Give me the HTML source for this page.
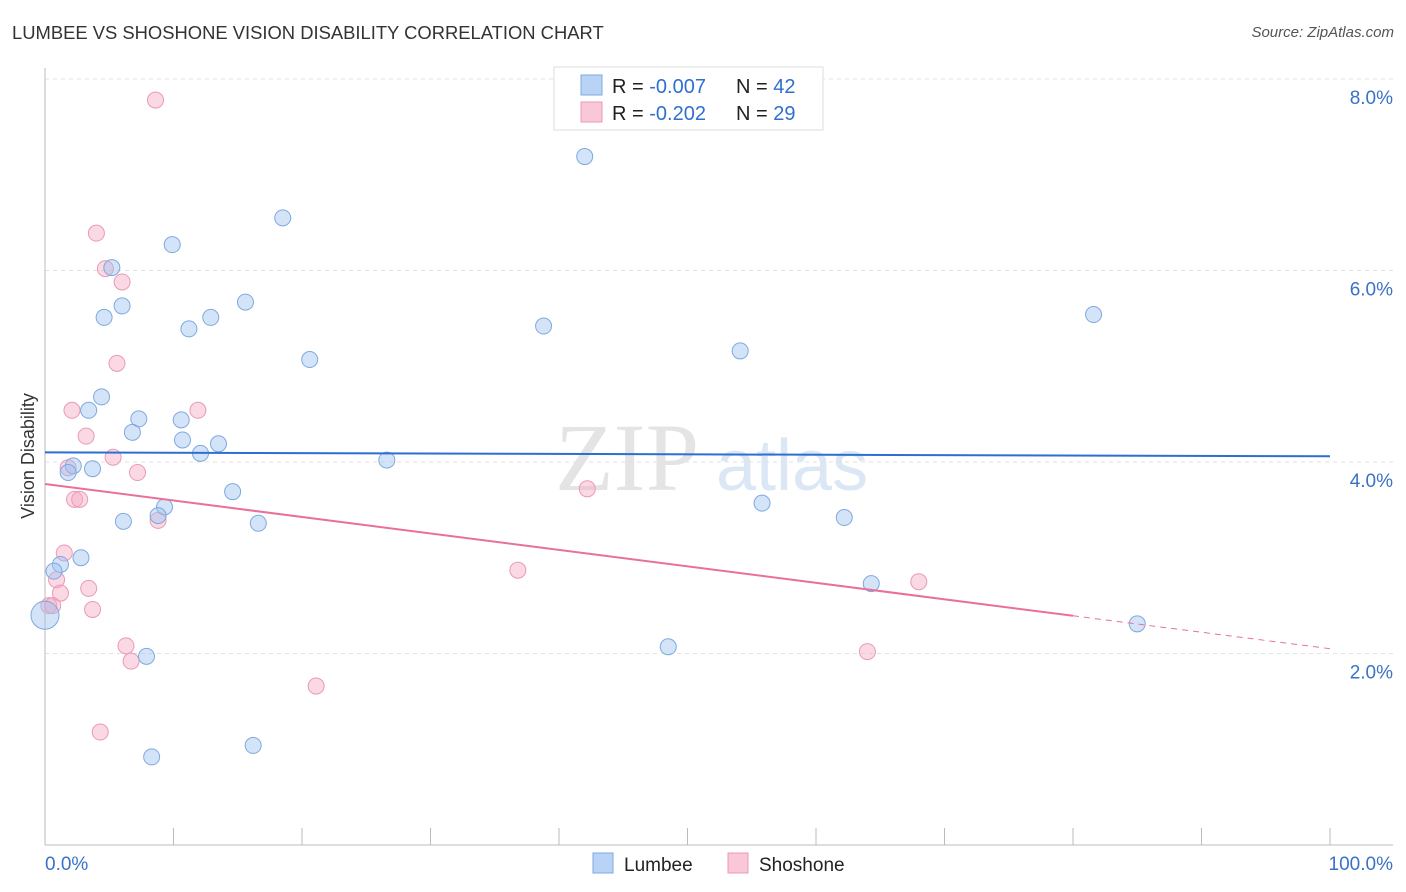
<!DOCTYPE html>
<html><head><meta charset="utf-8"><style>
body{margin:0;background:#fff;font-family:"Liberation Sans",sans-serif;}
#wrap{position:relative;width:1406px;height:892px;overflow:hidden;}
.t{position:absolute;white-space:nowrap;}
</style></head><body>
<div id="wrap">
<div class="t" style="left:12px;top:22px;font-size:18.4px;color:#333;">LUMBEE VS SHOSHONE VISION DISABILITY CORRELATION CHART</div>
<div class="t" style="right:12px;top:24px;font-size:15px;color:#555;font-style:italic;">Source: ZipAtlas.com</div>
<svg id="chart" width="1406" height="892" style="position:absolute;left:0;top:0"></svg>
</div>
<script>
const NS="http://www.w3.org/2000/svg";
const svg=document.getElementById('chart');
const lumbeeX=[42.0,18.5,9.9,5.2,6.0,4.6,15.6,12.9,11.2,20.6,38.8,54.1,81.6,4.4,3.4,7.3,10.6,6.8,10.7,13.5,12.1,26.6,2.2,3.7,1.8,14.6,9.3,8.8,6.1,16.6,55.8,62.2,2.8,1.2,0.7,64.3,85.0,48.5,7.9,16.2,8.3,0.0];
const lumbeeY=[7.19,6.55,6.27,6.03,5.63,5.51,5.67,5.51,5.39,5.07,5.42,5.16,5.54,4.68,4.54,4.45,4.44,4.31,4.23,4.19,4.09,4.02,3.96,3.93,3.89,3.69,3.53,3.44,3.38,3.36,3.57,3.42,3.0,2.93,2.86,2.73,2.31,2.07,1.97,1.04,0.92,2.40];
const shoX=[8.6,4.0,4.7,6.0,5.6,2.1,11.9,3.2,5.3,1.8,7.2,2.3,2.7,8.8,42.2,1.5,0.9,1.2,3.4,3.7,0.3,0.6,36.8,68.0,6.3,6.7,64.0,21.1,4.3];
const shoY=[7.78,6.39,6.02,5.88,5.03,4.54,4.54,4.27,4.05,3.94,3.89,3.61,3.61,3.39,3.72,3.05,2.77,2.63,2.68,2.46,2.50,2.50,2.87,2.75,2.08,1.92,2.02,1.66,1.18];
const yTicks=[2,4,6,8];
const yTickLabels=["2.0%","4.0%","6.0%","8.0%"];
const lumbeeTrend=[4.10,4.06];
const shoTrend=[3.77,2.05];
const shoSolidEnd=80;
const X=v=>45+v*12.85, Y=v=>79+(8-v)*95.75;
function el(tag,a,name,parent){const e=document.createElementNS(NS,tag);for(const k in a)e.setAttribute(k,a[k]);


(parent||svg).appendChild(e);return e;}
let w=el('text',{x:555,y:490,'font-size':96,fill:'#e4e4e4','font-family':'Liberation Serif,serif'},'watermark-zip');w.textContent='ZIP';
w=el('text',{x:716,y:490,'font-size':72,fill:'#dce7f5','font-family':'Liberation Sans,sans-serif'},'watermark-atlas');w.textContent='atlas';
yTicks.forEach((v,i)=>{el('line',{x1:45,x2:1393,y1:Y(v),y2:Y(v),stroke:'#e2e2e2','stroke-dasharray':'4,4'},'gridline');
const t=el('text',{x:1393,y:Y(v)+25,'text-anchor':'end','font-size':19,fill:'#3a72c8'},'y-tick-label');t.textContent=yTickLabels[i];});
el('line',{x1:45,x2:45,y1:68,y2:845,stroke:'#bbb'},'y-axis');
el('line',{x1:45,x2:1393,y1:845,y2:845,stroke:'#bbb'},'x-axis');
for(let i=0;i<=10;i++)el('line',{x1:X(i*10),x2:X(i*10),y1:828,y2:845,stroke:'#bbb'},'x-tick');
let t=el('text',{x:45,y:870,'font-size':19,fill:'#3a72c8'},'x-min-label');t.textContent='0.0%';
t=el('text',{x:1393,y:870,'font-size':19,fill:'#3a72c8','text-anchor':'end'},'x-max-label');t.textContent='100.0%';
t=el('text',{x:34,y:456,'font-size':18,fill:'#333','text-anchor':'middle',transform:'rotate(-90 34 456)'},'y-axis-title');t.textContent='Vision Disability';
shoX.forEach((x,i)=>el('circle',{cx:X(x),cy:Y(shoY[i]),r:8,fill:'rgba(245,170,195,0.45)',stroke:'#e99ab5','stroke-width':1},'shoshone-point'));
lumbeeX.forEach((x,i)=>el('circle',{cx:X(x),cy:Y(lumbeeY[i]),r:i==lumbeeX.length-1?14:8,fill:'rgba(160,195,240,0.45)',stroke:'#7ea9df','stroke-width':1},'lumbee-point'));
el('line',{x1:X(0),y1:Y(lumbeeTrend[0]),x2:X(100),y2:Y(lumbeeTrend[1]),stroke:'#2a6fd1','stroke-width':2},'lumbee-trendline');
const sy=v=>shoTrend[0]+(shoTrend[1]-shoTrend[0])*v/100;
el('line',{x1:X(0),y1:Y(sy(0)),x2:X(shoSolidEnd),y2:Y(sy(shoSolidEnd)),stroke:'#e8709a','stroke-width':2},'shoshone-trendline');
el('line',{x1:X(shoSolidEnd),y1:Y(sy(shoSolidEnd)),x2:X(100),y2:Y(sy(100)),stroke:'#e8709a','stroke-width':1,'stroke-dasharray':'6,5'},'shoshone-trendline-extension');
el('rect',{x:554,y:67,width:269,height:63,fill:'#fff',stroke:'#ddd'},'stats-legend-box');
el('rect',{x:581,y:75,width:21,height:20,fill:'#b8d3f5',stroke:'#7ea9df'},'lumbee-stats-swatch');
el('rect',{x:581,y:102,width:21,height:20,fill:'#f9c7d6',stroke:'#e99ab5'},'shoshone-stats-swatch');
function rt(y,r,n,nm){const g=el('text',{x:612,y:y,'font-size':20,fill:'#222'},nm);
g.innerHTML='R = <tspan fill="#2f6fd0">'+r+'</tspan><tspan x="736">N = </tspan><tspan fill="#2f6fd0">'+n+'</tspan>';}
rt(93,' -0.007','42','lumbee-stats');rt(120,' -0.202','29','shoshone-stats');
el('rect',{x:593,y:853,width:20,height:20,fill:'#b8d3f5',stroke:'#7ea9df'},'lumbee-legend-swatch');
t=el('text',{x:624,y:871,'font-size':19,fill:'#222'},'lumbee-legend-label');t.textContent='Lumbee';
el('rect',{x:728,y:853,width:20,height:20,fill:'#f9c7d6',stroke:'#e99ab5'},'shoshone-legend-swatch');
t=el('text',{x:759,y:871,'font-size':19,fill:'#222'},'shoshone-legend-label');t.textContent='Shoshone';
</script>
</body></html>
